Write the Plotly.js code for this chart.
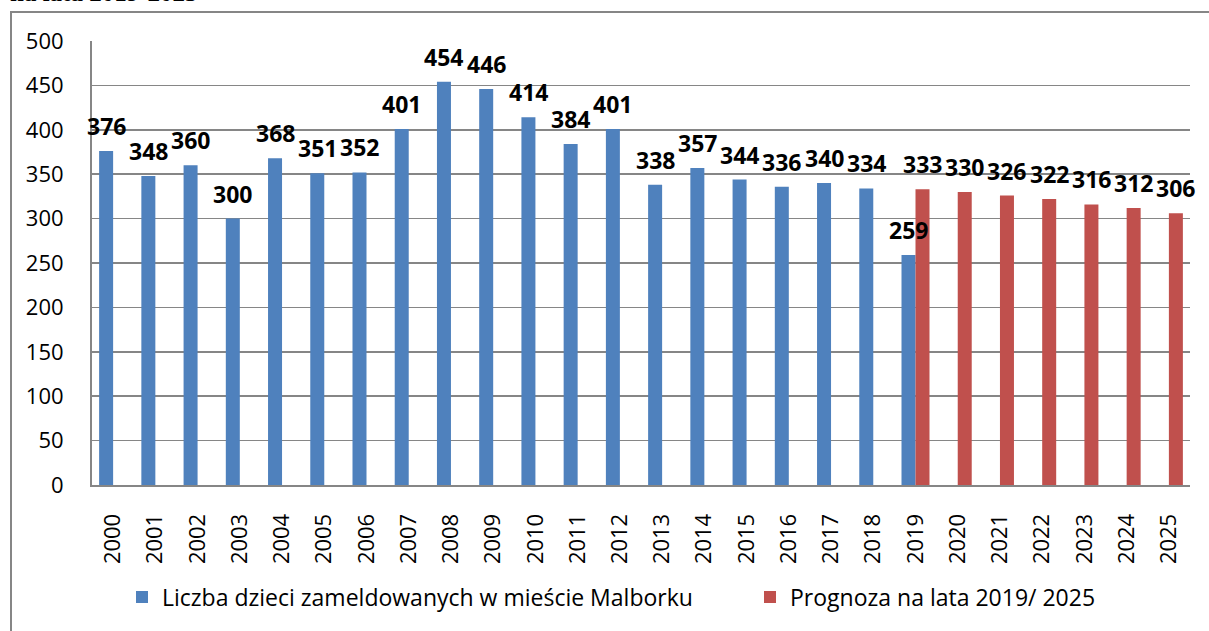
<!DOCTYPE html>
<html>
<head>
<meta charset="utf-8">
<script src="https://cdn.plot.ly/plotly-3.0.1.min.js"></script>
<style>
  html, body { margin: 0; padding: 0; background: #ffffff; }
  #chart { width: 1209px; height: 631px; }
</style>
</head>
<body>
<div id="chart"></div>
<script>
// ---- data ----
const years = ["2000","2001","2002","2003","2004","2005","2006","2007","2008","2009","2010","2011","2012","2013","2014","2015","2016","2017","2018","2019","2020","2021","2022","2023","2024","2025"];
const registeredYears = ["2000","2001","2002","2003","2004","2005","2006","2007","2008","2009","2010","2011","2012","2013","2014","2015","2016","2017","2018","2019"];
const registeredValues = [376,348,360,300,368,351,352,401,454,446,414,384,401,338,357,344,336,340,334,259];
const forecastYears = ["2019","2020","2021","2022","2023","2024","2025"];
const forecastValues = [333,330,326,322,316,312,306];
const registeredName = "Liczba dzieci zameldowanych w mieście Malborku";
const forecastName = "Prognoza na lata 2019/ 2025";
const titleText = "na lata 2019-2025";
const yTicks = [0,50,100,150,200,250,300,350,400,450,500];

// ---- layout constants ----
const W = 1209, H = 631;
const M = {l: 92, r: 19, t: 41, b: 146};
const plotW = W - M.l - M.r, plotH = H - M.t - M.b;
const bargap = 0.337;
const catW = plotW / years.length;
const barOff = (1 - bargap) * catW / 4;
const px2x = px => (px - M.l) / plotW;
const py2y = py => (H - M.b - py) / plotH;

const fontMain = "'Open Sans', 'Noto Sans', sans-serif";

const traceA = {
  type: "bar", name: registeredName, legend: "legend",
  x: registeredYears, y: registeredValues,
  marker: {color: "#4F81BD"}, hoverinfo: "x+y"
};
const traceB = {
  type: "bar", name: forecastName, legend: "legend2",
  x: forecastYears, y: forecastValues,
  marker: {color: "#C0504D"}, hoverinfo: "x+y"
};

const labelFont = {family: fontMain, size: 23, color: "#000000"};
const annotations = [];
registeredYears.forEach((yr, i) => annotations.push({
  x: years.indexOf(yr), y: registeredValues[i], xref: "x", yref: "y",
  text: "<b>" + registeredValues[i] + "</b>", showarrow: false,
  xanchor: "center", yanchor: "bottom", xshift: -barOff, yshift: 7,
  font: labelFont
}));
forecastYears.forEach((yr, i) => annotations.push({
  x: years.indexOf(yr), y: forecastValues[i], xref: "x", yref: "y",
  text: "<b>" + forecastValues[i] + "</b>", showarrow: false,
  xanchor: "center", yanchor: "bottom", xshift: barOff, yshift: 7,
  font: labelFont
}));
// cropped title fragment at top-left
annotations.push({
  x: px2x(8), y: py2y(8), xref: "paper", yref: "paper",
  text: "<b>" + titleText + "</b>", showarrow: false,
  xanchor: "left", yanchor: "bottom",
  font: {family: "'Liberation Serif', 'Times New Roman', serif", size: 25, color: "#000000"}
});

const legendFont = {family: fontMain, size: 23, color: "#000000"};

const layout = {
  width: W, height: H,
  margin: M,
  paper_bgcolor: "#ffffff", plot_bgcolor: "#ffffff",
  barmode: "group", bargap: bargap, bargroupgap: 0,
  font: {family: fontMain, size: 22, color: "#000000"},
  xaxis: {
    type: "category", categoryorder: "array", categoryarray: years,
    range: [-0.5, years.length - 0.5], autorange: false,
    tickangle: -90, showline: true, linecolor: "#868686", linewidth: 2,
    showgrid: false, ticks: "", ticklabelstandoff: 18,
    tickfont: {family: fontMain, size: 22, color: "#000000"}, fixedrange: true
  },
  yaxis: {
    range: [0, 500], autorange: false, tickvals: yTicks, showline: true, linecolor: "#868686", linewidth: 2,
    showgrid: true, gridcolor: "#868686", gridwidth: 1.5, zeroline: false,
    ticks: "", ticklabelstandoff: 22,
    tickfont: {family: fontMain, size: 22, color: "#000000"}, fixedrange: true
  },
  showlegend: true,
  legend: {
    orientation: "h", xref: "paper", yref: "paper",
    x: px2x(122), y: py2y(597), xanchor: "left", yanchor: "middle",
    font: legendFont, bgcolor: "rgba(0,0,0,0)"
  },
  legend2: {
    orientation: "h", xref: "paper", yref: "paper",
    x: px2x(750), y: py2y(597), xanchor: "left", yanchor: "middle",
    font: legendFont, bgcolor: "rgba(0,0,0,0)"
  },
  annotations: annotations,
  shapes: [{
    type: "rect", xref: "paper", yref: "paper", layer: "below",
    x0: px2x(11), x1: px2x(1230), y0: py2y(660), y1: py2y(12),
    line: {color: "#868686", width: 2}, fillcolor: "rgba(0,0,0,0)"
  }]
};

Plotly.newPlot("chart", [traceA, traceB], layout, {displayModeBar: false, staticPlot: true});
</script>
</body>
</html>
